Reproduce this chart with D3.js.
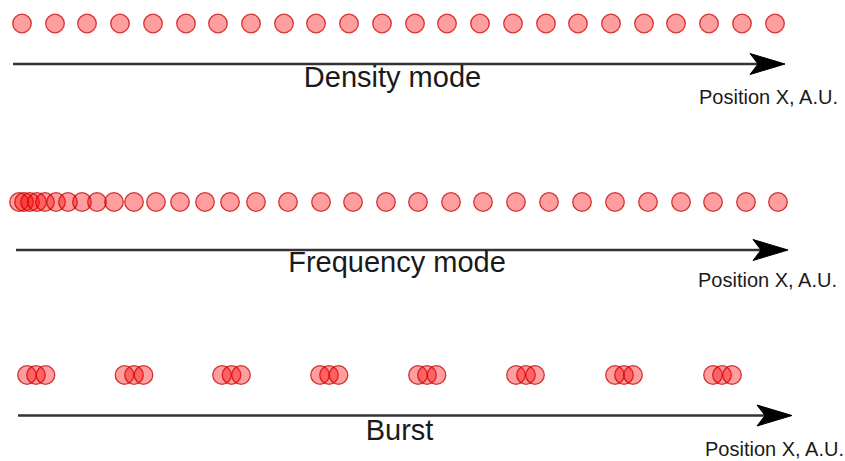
<!DOCTYPE html>
<html>
<head>
<meta charset="utf-8">
<script src="https://cdn.jsdelivr.net/npm/d3@7"></script>
<style>
  html, body { margin: 0; padding: 0; background: #fff; }
  svg { display: block; }
  text { font-family: "Liberation Sans", Arial, Helvetica, sans-serif; fill: #1a1a1a; }
</style>
</head>
<body>
<svg id="chart" width="845" height="461"></svg>
<script>
// ---- Data (positions along X, arbitrary units) ----
const modes = ["Density mode", "Frequency mode", "Burst"];
const axisLabel = "Position X, A.U.";
const densityPositions = [22, 55, 87, 120, 153, 186, 218, 251, 284, 316, 349, 382,
                          415, 447, 480, 513, 546, 578, 611, 644, 676, 709, 742, 775];
const frequencyPositions = [19, 24, 30, 37, 45, 56, 68, 82, 97, 114, 134,
                            156, 180, 205, 230, 256, 288, 321, 353, 386, 418, 451,
                            483, 516, 549, 582, 615, 648, 681, 713, 746, 778];
const burstPositions = [27, 36, 45.5, 124.5, 134, 143.5, 222, 231.5, 241,
                        320, 329, 338.5, 418, 427, 436.5, 516, 526, 535,
                        615, 624, 633, 713, 722, 732];
const seriesPositions = [densityPositions, frequencyPositions, burstPositions];

// ---- Layout (pixels) ----
const W = 845, H = 461;
const rows = [
  { dotY: 23.5, lineY: 64,  x0: 13, x1: 785, titleX: 392.5, titleY: 87,  axX: 699, axY: 104 },
  { dotY: 202,  lineY: 250, x0: 16, x1: 788, titleX: 397,   titleY: 272, axX: 698, axY: 287 },
  { dotY: 375,  lineY: 415.5, x0: 18, x1: 792, titleX: 399.5, titleY: 440, axX: 705, axY: 456 }
];

const x = d3.scaleLinear().domain([0, W]).range([0, W]);
const svg = d3.select("#chart");

const r = 9.3;
const headLen = 35, headHalf = 10.5, notch = 8;

rows.forEach((row, i) => {
  const g = svg.append("g");

  // axis line
  g.append("line")
    .attr("x1", x(row.x0)).attr("x2", x(row.x1) - headLen + notch + 1)
    .attr("y1", row.lineY).attr("y2", row.lineY)
    .attr("stroke", "#333").attr("stroke-width", 2.4);

  // arrow head (classic notched)
  const tip = x(row.x1), y = row.lineY;
  g.append("path")
    .attr("d", `M${tip},${y} L${tip - headLen},${y - headHalf} L${tip - headLen + notch},${y} L${tip - headLen},${y + headHalf} Z`)
    .attr("fill", "#000").attr("stroke", "#000").attr("stroke-width", 1).attr("stroke-linejoin", "round");

  // dots
  g.selectAll("circle")
    .data(seriesPositions[i])
    .join("circle")
    .attr("cx", d => x(d))
    .attr("cy", row.dotY)
    .attr("r", r)
    .attr("fill", "#ff0000").attr("fill-opacity", 0.38)
    .attr("stroke", "#c40000").attr("stroke-opacity", 0.75).attr("stroke-width", 1.3);

  // mode title
  g.append("text")
    .attr("x", row.titleX).attr("y", row.titleY)
    .attr("text-anchor", "middle")
    .attr("font-size", 29)
    .text(modes[i]);

  // axis label
  g.append("text")
    .attr("x", row.axX).attr("y", row.axY)
    .attr("font-size", 20)
    .attr("fill", "#222")
    .text(axisLabel);
});
</script>
</body>
</html>
